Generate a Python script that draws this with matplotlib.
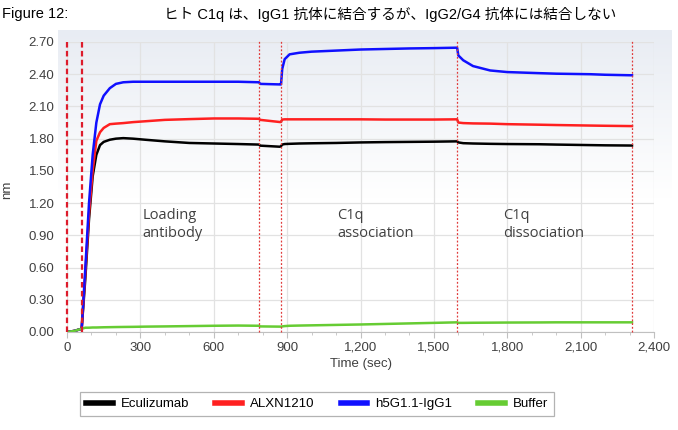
import numpy as np
import matplotlib
matplotlib.use("Agg")
import matplotlib.pyplot as plt
from matplotlib.ticker import MultipleLocator, FuncFormatter
from matplotlib.colors import LinearSegmentedColormap

# Time points (sec), shared by all traces
time = [0, 30, 60, 75, 90, 105, 120, 135, 150, 175, 200, 230, 270, 320, 400,
        500, 600, 700, 785, 790, 870, 875, 880, 890, 910, 950, 1000, 1100, 1200,
        1300, 1400, 1500, 1595, 1600, 1620, 1660, 1730, 1800, 1930, 2000, 2140,
        2200, 2310]

eculizumab = [0.0, 0.01, 0.03, 0.5, 1.05, 1.45, 1.65, 1.74, 1.77, 1.79, 1.80,
              1.805, 1.80, 1.79, 1.775, 1.76, 1.755, 1.75, 1.745, 1.735, 1.725,
              1.73, 1.745, 1.75, 1.752, 1.755, 1.757, 1.76, 1.765, 1.768, 1.77,
              1.772, 1.775, 1.765, 1.758, 1.755, 1.752, 1.75, 1.748, 1.745,
              1.74, 1.738, 1.736]

alxn1210 = [0.0, 0.01, 0.03, 0.55, 1.1, 1.5, 1.78, 1.86, 1.9, 1.935, 1.94,
            1.945, 1.954, 1.962, 1.975, 1.982, 1.988, 1.988, 1.985, 1.975, 1.955,
            1.955, 1.978, 1.98, 1.98, 1.98, 1.98, 1.98, 1.98, 1.978, 1.978, 1.978,
            1.98, 1.95, 1.945, 1.942, 1.94, 1.935, 1.93, 1.927, 1.922, 1.92, 1.917]

h5g11_igg1 = [0.0, 0.01, 0.03, 0.6, 1.2, 1.65, 1.95, 2.12, 2.2, 2.27, 2.31,
              2.325, 2.33, 2.33, 2.33, 2.33, 2.33, 2.33, 2.325, 2.31, 2.305,
              2.305, 2.45, 2.54, 2.585, 2.60, 2.61, 2.62, 2.63, 2.635, 2.64,
              2.643, 2.647, 2.575, 2.53, 2.476, 2.435, 2.42, 2.41, 2.405, 2.40,
              2.395, 2.39]

buffer = [0.0, 0.01, 0.03, 0.04, 0.04, 0.042, 0.042, 0.043, 0.044, 0.045,
          0.046, 0.047, 0.048, 0.05, 0.052, 0.055, 0.058, 0.06, 0.058, 0.052,
          0.05, 0.05, 0.052, 0.055, 0.058, 0.06, 0.062, 0.066, 0.07, 0.075,
          0.08, 0.085, 0.09, 0.085, 0.085, 0.086, 0.087, 0.088, 0.089, 0.09,
          0.09, 0.09, 0.09]

series_names = ["Eculizumab", "ALXN1210", "h5G1.1-IgG1", "Buffer"]
series_colors = ["#000000", "#ff2020", "#1010ff", "#66cc33"]

# step boundaries (red dashed markers)
steps = [0, 60, 785, 875, 1595, 2310]
step_labels = ["Loading\nantibody", "C1q\nassociation", "C1q\ndissociation"]
step_label_x = [310, 1105, 1785]

plt.rcParams['font.family'] = ['Liberation Sans', 'Noto Sans CJK JP']

fig = plt.figure(figsize=(6.78, 4.30), dpi=100)

# light gradient panel behind the chart
bg = fig.add_axes([58 / 678, 1 - 365 / 430, 614 / 678, 335 / 430], zorder=0)
grad = np.linspace(0, 1, 200).reshape(-1, 1)
cmap = LinearSegmentedColormap.from_list("bg", ["#e8ecf3", "#ffffff", "#ffffff"])
bg.imshow(grad, aspect="auto", cmap=cmap, extent=[0, 1, 0, 1])
bg.axis("off")

ax = fig.add_axes([67 / 678, 1 - 332 / 430, 587 / 678, 290 / 430], zorder=1)
ax.set_facecolor("none")

data = [eculizumab, alxn1210, h5g11_igg1, buffer]
for vals, name, col in zip(data, series_names, series_colors):
    ax.plot(time, vals, color=col, lw=1.8, label=name)

for i, s in enumerate(steps):
    if i < 2:
        ax.vlines(s, 0, 2.72, colors="#dd1c2c", linestyles=(0, (2.5, 1.5)), lw=1.6, zorder=3, clip_on=False)
    else:
        ax.vlines(s, 0, 2.72, colors="#e03a3a", linestyles=(0, (1.5, 1.5)), lw=0.9, zorder=3, clip_on=False)

for lbl, xx in zip(step_labels, step_label_x):
    ax.text(xx, 1.15, lbl, fontsize=10.5, family="Open Sans", color="#404040",
            va="top", ha="left", linespacing=1.25)

ax.set_xlim(0, 2400)
ax.set_ylim(0, 2.70)
ax.xaxis.set_major_locator(MultipleLocator(300))
ax.xaxis.set_minor_locator(MultipleLocator(100))
ax.yaxis.set_major_locator(MultipleLocator(0.30))
ax.xaxis.set_major_formatter(FuncFormatter(lambda v, p: f"{int(v):,}"))
ax.yaxis.set_major_formatter(FuncFormatter(lambda v, p: f"{v:.2f}"))
ax.grid(True, color="#e2e2e2", lw=0.9)
ax.set_axisbelow(True)
for sp in ["top", "right", "left"]:
    ax.spines[sp].set_visible(False)
ax.spines["bottom"].set_color("#c0c0c0")
ax.tick_params(axis="x", which="major", length=4, color="#c0c0c0", labelsize=9.5,
               labelcolor="#404040", pad=3)
ax.tick_params(axis="x", which="minor", length=2.5, color="#c0c0c0")
ax.tick_params(axis="y", length=0, labelsize=9.5, labelcolor="#404040", pad=9)
ax.set_xlabel("Time (sec)", fontsize=9.5, color="#404040", labelpad=3)
ax.set_ylabel("nm", fontsize=9.5, color="#404040")
ax.yaxis.set_label_coords(-54 / 587, 0.49)

leg = fig.legend(loc="center", bbox_to_anchor=(317 / 678, 1 - 404 / 430), ncol=4,
                 frameon=True, fancybox=False, fontsize=9.5, handlelength=2.0,
                 columnspacing=2.0, handletextpad=0.6, borderpad=0.45)
leg.get_frame().set_edgecolor("#a0a0a0")
leg.get_frame().set_linewidth(0.9)
for h in leg.get_lines():
    h.set_linewidth(4)

fig.text(2 / 678, 1 - 14 / 430, "Figure 12:", fontsize=10.5, va="center", ha="left")
fig.text(164 / 678, 1 - 14 / 430, "ヒト C1q は、IgG1 抗体に結合するが、IgG2/G4 抗体には結合しない",
         fontsize=10.5, va="center", ha="left")

fig.savefig("out.png", dpi=100)
